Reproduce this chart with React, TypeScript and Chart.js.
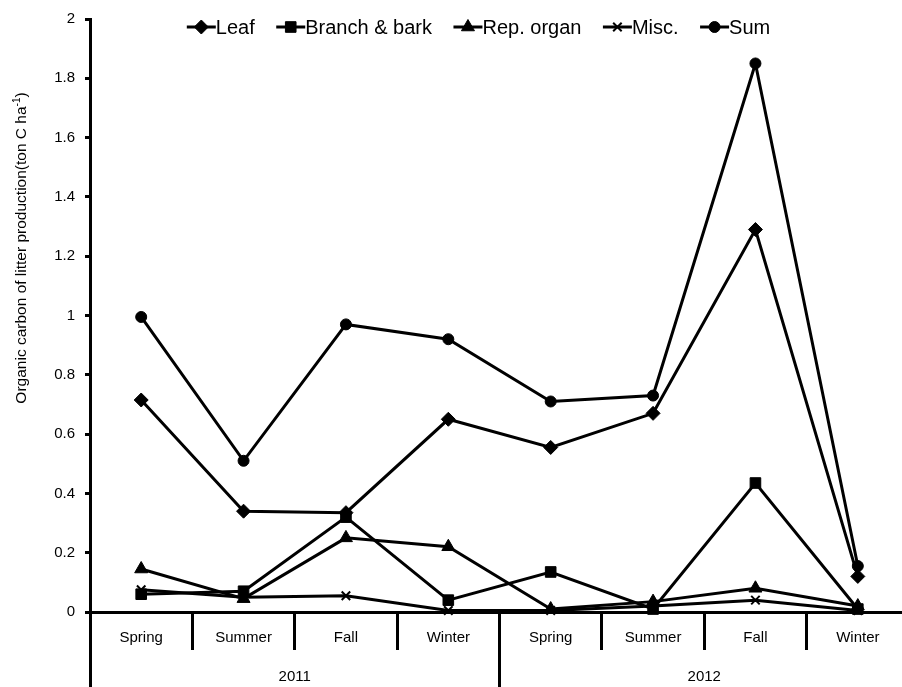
import React, { useEffect, useRef } from 'react';
import { Chart, registerables } from 'chart.js';
import { drawPoint } from 'chart.js/helpers';

Chart.register(...registerables);

const FONT = '"Liberation Sans", Arial, Helvetica, sans-serif';

// Categories
const seasons = ['Spring', 'Summer', 'Fall', 'Winter', 'Spring', 'Summer', 'Fall', 'Winter'];
const years = ['2011', '2012'];

// Series values (ton C ha-1)
const leaf = [0.715, 0.34, 0.335, 0.65, 0.555, 0.67, 1.29, 0.12];
const branchBark = [0.06, 0.07, 0.32, 0.04, 0.135, 0.01, 0.435, 0.01];
const repOrgan = [0.145, 0.045, 0.25, 0.22, 0.01, 0.035, 0.08, 0.02];
const misc = [0.075, 0.05, 0.055, 0.005, 0.005, 0.02, 0.04, 0.005];
const sum = [0.995, 0.51, 0.97, 0.92, 0.71, 0.73, 1.85, 0.155];

// Y axis
const yMin = 0;
const yMax = 2;
const yStep = 0.2;
const yTickLabels = ['0', '0.2', '0.4', '0.6', '0.8', '1', '1.2', '1.4', '1.6', '1.8', '2'];
const yTitleMain = 'Organic carbon of litter production(ton C ha';
const yTitleSup = '-1';
const yTitleEnd = ')';

const legendPlugin = {
  id: 'lineMarkerLegend',
  afterDraw(chart: any) {
    const ctx = chart.ctx as CanvasRenderingContext2D;
    ctx.save();
    ctx.font = `20px ${FONT}`;
    const items = chart.data.datasets.map((ds: any) => ({
      text: ds.label,
      style: ds.pointStyle,
      r: ds.pointRadius,
      bw: ds.pointBorderWidth,
    }));
    const lineLen = 29;
    const gap = 21.5;
    const widths = items.map((it: any) => ctx.measureText(it.text).width);
    const total =
      widths.reduce((a: number, b: number) => a + b, 0) + items.length * lineLen + gap * (items.length - 1);
    let x = 478.5 - total / 2;
    const y = 27;
    items.forEach((it: any, i: number) => {
      ctx.strokeStyle = '#000';
      ctx.fillStyle = '#000';
      ctx.lineWidth = 3;
      ctx.beginPath();
      ctx.moveTo(x, y);
      ctx.lineTo(x + lineLen, y);
      ctx.stroke();
      ctx.lineWidth = it.bw;
      drawPoint(ctx, { pointStyle: it.style, radius: it.r, rotation: 0, borderWidth: it.bw } as any, x + lineLen / 2, y);
      ctx.textAlign = 'left';
      ctx.textBaseline = 'middle';
      ctx.fillText(it.text, x + lineLen, y + 1);
      x += lineLen + widths[i] + gap;
    });
    ctx.restore();
  },
};

const yTitlePlugin = {
  id: 'yTitleWithSup',
  afterDraw(chart: any) {
    const ctx = chart.ctx as CanvasRenderingContext2D;
    ctx.save();
    const mainFont = `15.5px ${FONT}`;
    const supFont = `10px ${FONT}`;
    ctx.font = mainFont;
    const w1 = ctx.measureText(yTitleMain).width;
    const w3 = ctx.measureText(yTitleEnd).width;
    ctx.font = supFont;
    const w2 = ctx.measureText(yTitleSup).width;
    const total = w1 + w2 + w3;
    ctx.translate(22, 248);
    ctx.rotate(-Math.PI / 2);
    ctx.fillStyle = '#000';
    ctx.textBaseline = 'middle';
    ctx.textAlign = 'left';
    let x = -total / 2;
    ctx.font = mainFont;
    ctx.fillText(yTitleMain, x, 0);
    x += w1;
    ctx.font = supFont;
    ctx.fillText(yTitleSup, x, -5);
    x += w2;
    ctx.font = mainFont;
    ctx.fillText(yTitleEnd, x, 0);
    ctx.restore();
  },
};

export default function App() {
  const ref = useRef<HTMLCanvasElement>(null);

  useEffect(() => {
    const common = {
      borderColor: '#000',
      backgroundColor: '#000',
      pointBackgroundColor: '#000',
      pointBorderColor: '#000',
      borderWidth: 3,
      tension: 0,
      clip: false as const,
    };
    const chart = new Chart(ref.current as HTMLCanvasElement, {
      type: 'line',
      data: {
        labels: seasons,
        datasets: [
          { ...common, label: 'Leaf', data: leaf, pointStyle: 'rectRot', pointRadius: 7, pointHoverRadius: 7, pointBorderWidth: 1 },
          { ...common, label: 'Branch & bark', data: branchBark, pointStyle: 'rect', pointRadius: 7.5, pointHoverRadius: 7.5, pointBorderWidth: 1 },
          { ...common, label: 'Rep. organ', data: repOrgan, pointStyle: 'triangle', pointRadius: 7.5, pointHoverRadius: 7.5, pointBorderWidth: 1 },
          { ...common, label: 'Misc.', data: misc, pointStyle: 'crossRot', pointRadius: 6, pointHoverRadius: 6, pointBorderWidth: 2 },
          { ...common, label: 'Sum', data: sum, pointStyle: 'circle', pointRadius: 5.5, pointHoverRadius: 5.5, pointBorderWidth: 1 },
        ] as any,
      },
      options: {
        responsive: false,
        animation: false,
        layout: { padding: { top: 19, right: 11, bottom: 0, left: 0 } },
        plugins: {
          legend: { display: false },
          tooltip: { enabled: false },
        },
        scales: {
          x: {
            type: 'category',
            position: 'bottom',
            offset: true,
            weight: 0,
            grid: {
              display: true,
              offset: true,
              drawOnChartArea: false,
              drawTicks: true,
              tickLength: 38,
              color: '#000',
              lineWidth: 3,
            },
            border: { display: true, color: '#000', width: 3 },
            ticks: {
              color: '#000',
              font: { family: FONT, size: 15 },
              padding: -21,
              maxRotation: 0,
              autoSkip: false,
            },
            afterFit: (s: any) => {
              s.height = 38;
            },
          },
          x2: {
            type: 'category',
            labels: years,
            position: 'bottom',
            offset: true,
            weight: 1,
            grid: {
              display: true,
              offset: true,
              drawOnChartArea: false,
              drawTicks: true,
              tickLength: 37,
              color: '#000',
              lineWidth: 3,
            },
            border: { display: false },
            ticks: {
              color: '#000',
              font: { family: FONT, size: 15 },
              padding: -19,
              maxRotation: 0,
              autoSkip: false,
            },
            afterFit: (s: any) => {
              s.height = 37;
            },
          },
          y: {
            min: yMin,
            max: yMax,
            grid: {
              display: true,
              drawOnChartArea: false,
              drawTicks: true,
              tickLength: 5,
              color: '#000',
              lineWidth: 3,
            },
            border: { display: true, color: '#000', width: 3 },
            ticks: {
              stepSize: yStep,
              color: '#000',
              font: { family: FONT, size: 15 },
              padding: 10,
              callback: (_v: any, i: number) => yTickLabels[i],
            },
            afterFit: (s: any) => {
              s.width = 90;
            },
          },
        } as any,
      },
      plugins: [legendPlugin, yTitlePlugin],
    });
    return () => chart.destroy();
  }, []);

  return (
    <div
      style={{
        position: 'fixed',
        left: 0,
        top: 0,
        width: 902,
        height: 687,
        overflow: 'hidden',
        background: '#fff',
      }}
    >
      <canvas ref={ref} width={920} height={687} style={{ display: 'block', width: 920, height: 687 }} />
    </div>
  );
}
